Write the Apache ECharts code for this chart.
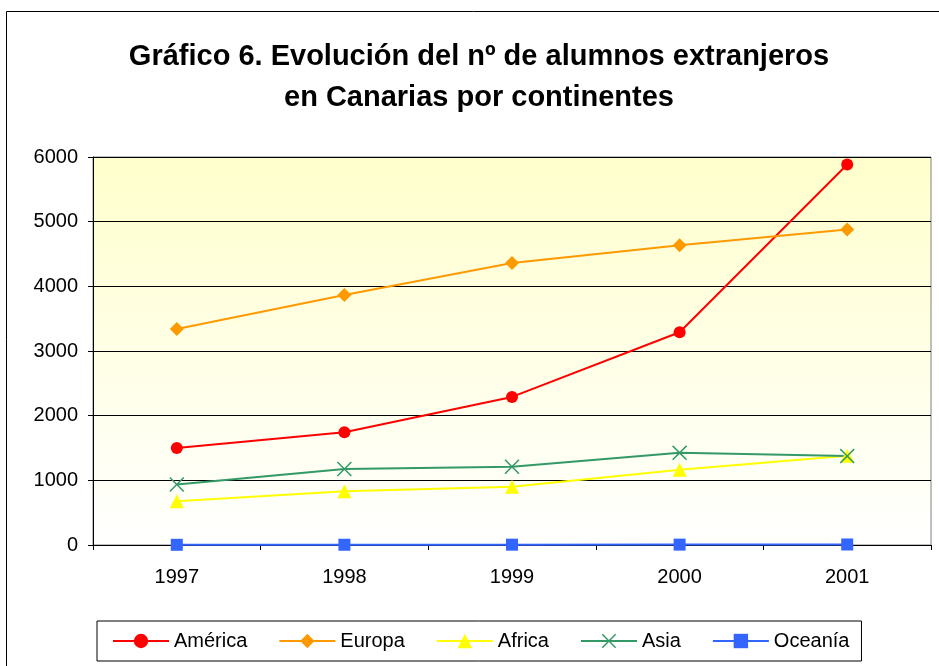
<!DOCTYPE html>
<html>
<head>
<meta charset="utf-8">
<script src="https://cdn.jsdelivr.net/npm/echarts@6/dist/echarts.min.js"></script>
<style>
  html, body { margin: 0; padding: 0; background: #fff; }
  #chart { width: 939px; height: 666px; }
</style>
</head>
<body>
<div id="chart"></div>
<script>
// years on the x axis
const years = ["1997", "1998", "1999", "2000", "2001"];

// pupils per continent
const america = [1500, 1745, 2290, 3290, 5885];
const europa = [3340, 3865, 4360, 4635, 4880];
const africa = [675, 830, 900, 1165, 1380];
const asia = [935, 1175, 1210, 1425, 1375];
const oceania = [3, 4, 5, 6, 8];

const FONT = "Liberation Sans, Arial, sans-serif";
const X_SYMBOL = "path://M0,1 L1,0 L7,6 L13,0 L14,1 L8,7 L14,13 L13,14 L7,8 L1,14 L0,13 L6,7 Z";

function lineSeries(name, data, color, symbol, size) {
    return {
        name: name,
        type: "line",
        data: data,
        symbol: symbol,
        symbolSize: size,
        showSymbol: true,
        lineStyle: { color: color, width: 2 },
        itemStyle: { color: color, borderWidth: 0 },
        emphasis: { disabled: true },
        z: 3,
    };
}

const chart = echarts.init(document.getElementById("chart"));
chart.setOption({
    animation: false,
    textStyle: { fontFamily: FONT },
    title: {
        text: "Gráfico 6. Evolución del nº de alumnos extranjeros\nen Canarias por continentes",
        left: 474,
        textAlign: "center",
        top: 31,
        textStyle: {
            fontFamily: FONT,
            fontSize: 29,
            fontWeight: "bold",
            color: "#000",
            lineHeight: 41,
        },
    },
    graphic: [
        {
            type: "rect",
            shape: { x: 6.5, y: 11.5, width: 940, height: 700 },
            style: { fill: null, stroke: "#000", lineWidth: 1 },
            silent: true,
            z: -10,
        },
    ],
    legend: {
        left: 97,
        top: 621,
        padding: [10, 12, 10, 15],
        borderColor: "#000",
        borderWidth: 1,
        itemGap: 31,
        itemWidth: 56,
        itemHeight: 18,
        textStyle: { fontFamily: FONT, fontSize: 20, color: "#000" },
        data: ["América", "Europa", "Africa", "Asia", "Oceanía"],
    },
    grid: {
        left: 93,
        right: 8,
        top: 157,
        bottom: 121,
        show: true,
        borderColor: "#808080",
        borderWidth: 1,
        backgroundColor: new echarts.graphic.LinearGradient(0, 0, 0, 1, [
            { offset: 0, color: "#FFFFCC" },
            { offset: 1, color: "#FFFFFF" },
        ]),
    },
    xAxis: {
        type: "category",
        data: years,
        boundaryGap: true,
        axisLine: { lineStyle: { color: "#000", width: 1 } },
        axisTick: { show: true, alignWithLabel: false, length: 5, lineStyle: { color: "#000" } },
        axisLabel: { fontFamily: FONT, fontSize: 20, color: "#000", margin: 22 },
    },
    yAxis: {
        type: "value",
        min: 0,
        max: 6000,
        interval: 1000,
        axisLine: { show: true, lineStyle: { color: "#000", width: 1 } },
        axisTick: { show: true, length: 5, lineStyle: { color: "#000" } },
        axisLabel: {
            fontFamily: FONT,
            fontSize: 20,
            color: "#000",
            margin: 15,
            formatter: function (v) { return String(v); },
        },
        splitLine: { show: true, lineStyle: { color: "#000", width: 1 } },
    },
    series: [
        lineSeries("América", america, "#FF0000", "circle", 12),
        lineSeries("Europa", europa, "#FF9900", "diamond", 14),
        lineSeries("Africa", africa, "#FFFF00", "triangle", 14),
        lineSeries("Asia", asia, "#339966", X_SYMBOL, 15),
        lineSeries("Oceanía", oceania, "#3366FF", "rect", 12),
    ],
});
</script>
</body>
</html>
